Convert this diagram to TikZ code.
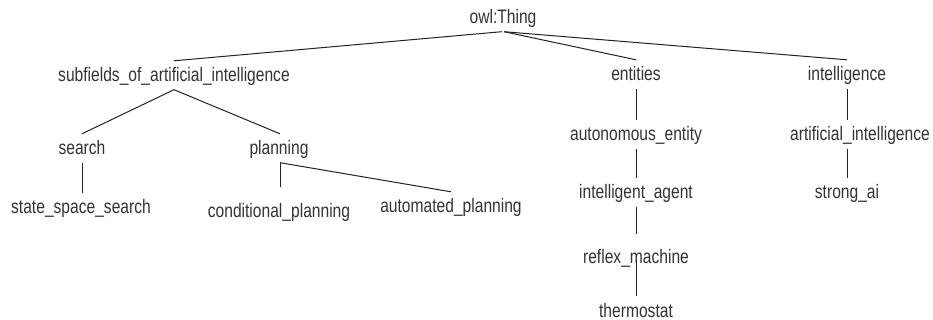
\documentclass[tikz,border=0pt]{standalone}
\usepackage{fontspec}
\setmainfont{Liberation Sans}
\usepackage{graphicx}
\newcommand{\mytxt}[1]{\scalebox{1}[1.25]{#1}}
\definecolor{txtc}{HTML}{333333}
\definecolor{linec}{HTML}{222222}
\begin{document}
\begin{tikzpicture}[x=1pt,y=-1pt,
  cls/.style={anchor=base, inner sep=0pt, text height=21pt, text depth=7.5pt,
    font=\fontsize{15.6}{18}\selectfont, text=txtc},
  conn/.style={draw=linec, line width=1pt}]
\useasboundingbox (0,0) rectangle (933,320);
\node[cls] (owl) at (503,24) {\mytxt{owl:Thing}};
\node[cls] (sub) at (174,82) {\mytxt{subfields\_of\_artificial\_intelligence}};
\node[cls] (ent) at (636,81) {\mytxt{entities}};
\node[cls] (int) at (847,81) {\mytxt{intelligence}};
\node[cls] (sea) at (82,155) {\mytxt{search}};
\node[cls] (pla) at (279,155) {\mytxt{planning}};
\node[cls] (sss) at (81,214) {\mytxt{state\_space\_search}};
\node[cls] (con) at (279,218) {\mytxt{conditional\_planning}};
\node[cls] (aut) at (451,213) {\mytxt{automated\_planning}};
\node[cls] (aen) at (636,141) {\mytxt{autonomous\_entity}};
\node[cls] (iag) at (636,199) {\mytxt{intelligent\_agent}};
\node[cls] (rma) at (636,263) {\mytxt{reflex\_machine}};
\node[cls] (the) at (636,317) {\mytxt{thermostat}};
\node[cls] (ain) at (860,141) {\mytxt{artificial\_intelligence}};
\node[cls] (sai) at (847,199) {\mytxt{strong\_ai}};
% connectors
\draw[conn] ([xshift=-1pt]owl.south) -- (sub.north);
\draw[conn] ([xshift=1pt]owl.south) -- (ent.north);
\draw[conn] ([xshift=1pt]owl.south) -- (int.north);
\draw[conn] (sub.south) -- (sea.north);
\draw[conn] (sub.south) -- ([xshift=1pt]pla.north);
\draw[conn] (sea.south) -- (sss.north -| sea.south);
\draw[conn] ([xshift=1pt]pla.south) -- ([xshift=1pt,yshift=10pt]con.north);
\draw[conn] ([xshift=1pt]pla.south) -- (aut.north);
\draw[conn] (ent.south) -- (aen.north);
\draw[conn] (aen.south) -- (iag.north);
\draw[conn] (iag.south) -- ([yshift=8pt]rma.north);
\draw[conn] ([yshift=11pt]rma.south) -- (the.north);
\draw[conn] (int.south) -- (int.south |- ain.north);
\draw[conn] (ain.south -| sai.north) -- (sai.north);
\end{tikzpicture}
\end{document}
